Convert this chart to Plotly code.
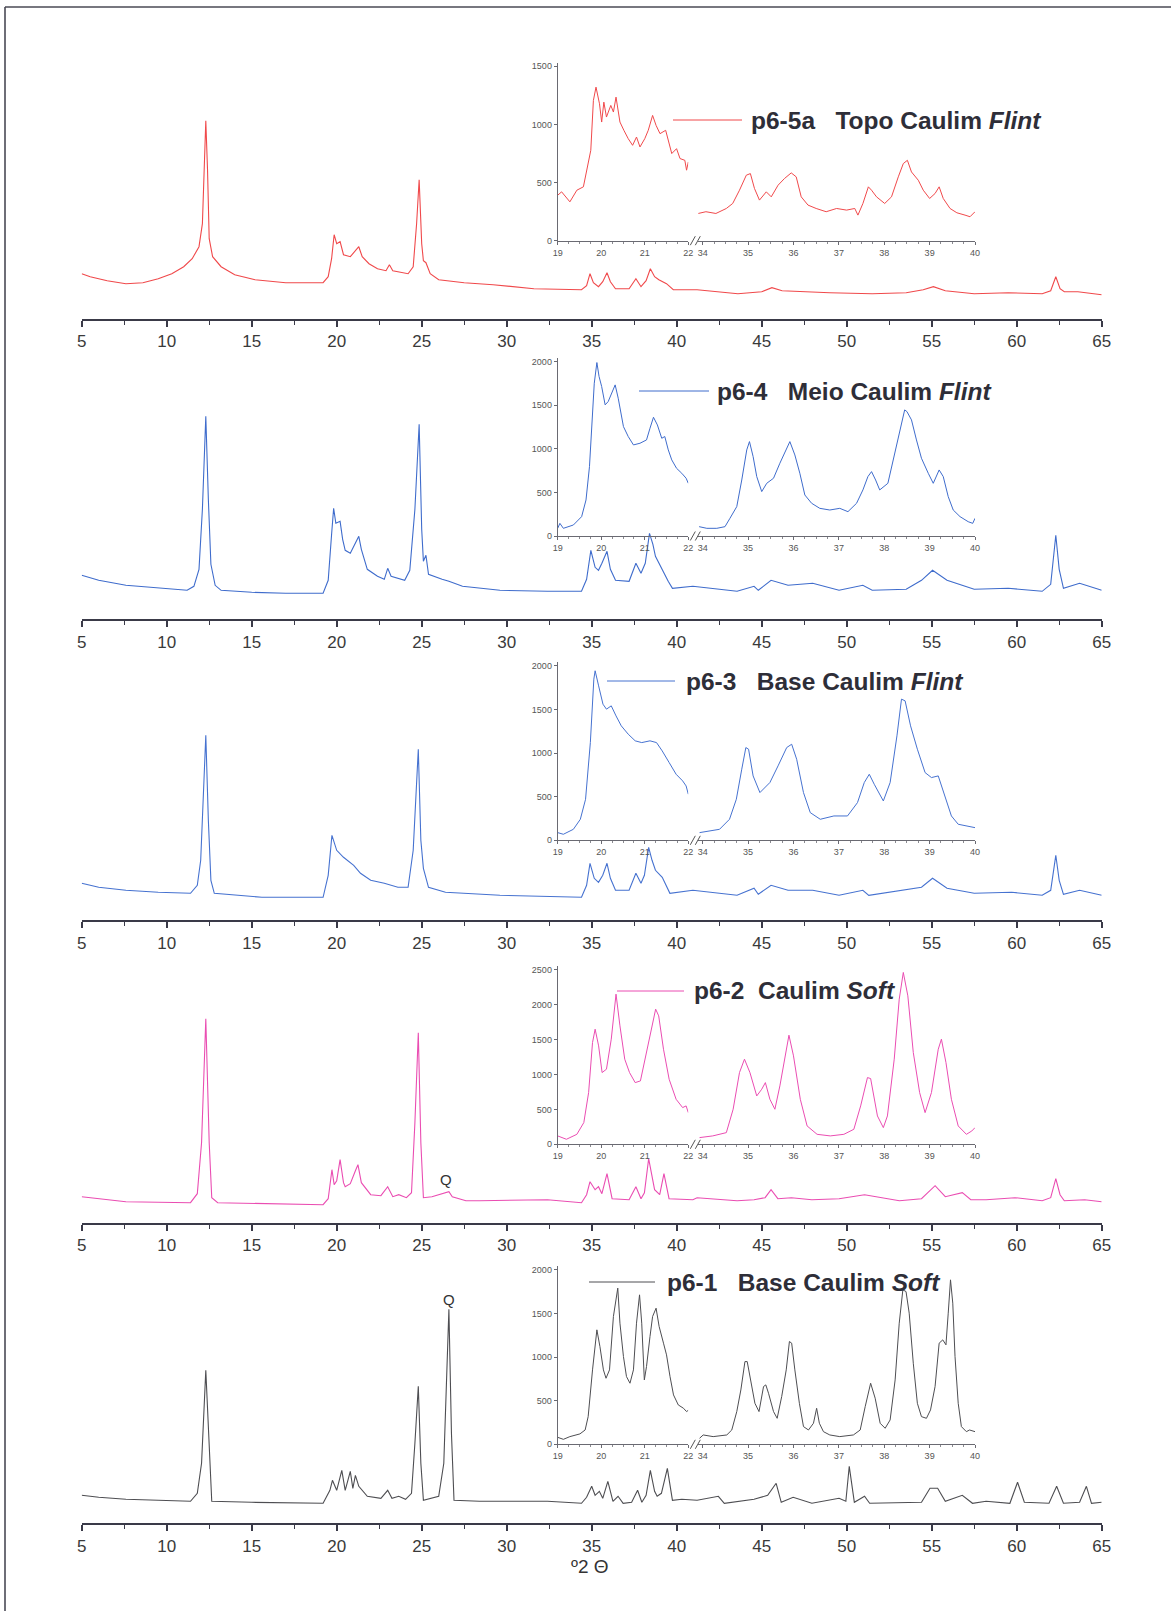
import plotly.graph_objects as go

W, H = 1171, 1611

# ---------------------------------------------------------------------------
# Full scans, 5-65 degrees 2-theta (relative intensity, a.u.)
# ---------------------------------------------------------------------------
p65a_tt = [5.0, 5.5, 6.5, 7.6, 8.6, 9.5, 10.3, 11.0, 11.5, 11.9, 12.1, 12.2, 12.3, 12.4, 12.5, 12.7,
           13.2, 14.0, 15.2, 17.0, 19.2, 19.5, 19.7, 19.85, 20.0, 20.2, 20.4, 20.8, 21.1, 21.3, 21.5,
           21.9, 22.4, 22.9, 23.1, 23.3, 24.2, 24.5, 24.7, 24.85, 25.0, 25.1, 25.25, 25.5, 26.0, 27.5,
           29.2, 31.6, 34.4, 34.7, 34.9, 35.1, 35.4, 35.65, 35.9, 36.1, 36.4, 37.2, 37.6, 37.9, 38.2,
           38.45, 38.7, 38.95, 39.4, 39.8, 41.2, 43.6, 45.0, 45.6, 46.2, 47.5, 49.0, 51.5, 53.5, 54.5,
           55.1, 55.8, 57.5, 59.5, 61.5, 62.0, 62.3, 62.55, 62.8, 63.6, 64.0, 65.0]
p65a_i = [45, 42, 38, 35, 36, 40, 45, 52, 60, 72, 95, 150, 198, 150, 80, 62,
          52, 44, 39, 36, 36, 42, 60, 84, 75, 77, 64, 62, 68, 72, 62,
          55, 50, 48, 54, 48, 45, 52, 95, 139, 75, 58, 56, 45, 39, 36,
          34, 30, 29, 33, 45, 36, 32, 37, 46, 37, 30, 30, 40, 32, 38,
          50, 42, 39, 35, 29, 29, 25, 27, 31, 28, 27, 26, 25, 26, 29,
          32, 28, 25, 26, 25, 28, 42, 30, 27, 27, 26, 24]

p64_tt = [5.0, 6.0, 7.6, 9.5, 11.2, 11.6, 11.9, 12.1, 12.3, 12.45, 12.6, 12.85, 13.2, 15.0, 17.0,
          19.2, 19.5, 19.7, 19.82, 19.95, 20.2, 20.35, 20.5, 20.8, 21.1, 21.3, 21.45, 21.8, 22.4,
          22.8, 23.0, 23.2, 24.0, 24.3, 24.6, 24.85, 25.0, 25.1, 25.25, 25.4, 26.2, 26.6, 27.4, 29.6,
          32.4, 34.4, 34.7, 34.95, 35.2, 35.4, 35.6, 35.9, 36.1, 36.4, 37.2, 37.6, 37.9, 38.15, 38.4,
          38.6, 38.75, 39.15, 39.5, 39.75, 40.95, 43.55, 44.55, 44.8, 45.55, 46.55, 48.0, 49.55,
          50.95, 51.5, 53.5, 54.4, 55.05, 55.9, 57.5, 59.5, 61.5, 62.0, 62.3, 62.5, 62.75, 63.7, 65.0]
p64_i = [44, 39, 34, 31, 29, 33, 50, 110, 203, 120, 55, 34, 29, 27, 26,
         26, 39, 85, 111, 96, 98, 80, 69, 66, 76, 83, 70, 50, 43,
         40, 51, 43, 39, 49, 110, 195, 90, 58, 64, 45, 40, 38, 33, 29,
         28, 28, 40, 69, 52, 49, 56, 68, 50, 39, 38, 56, 46, 56, 86,
         75, 63, 49, 38, 31, 33, 28, 33, 29, 39, 34, 36, 29,
         34, 29, 30, 39, 49, 39, 30, 31, 28, 35, 84, 50, 31, 36, 29]

p63_tt = [5.0, 6.0, 7.6, 9.5, 11.4, 11.8, 12.0, 12.15, 12.3, 12.45, 12.6, 12.8, 15.6, 19.2, 19.5,
          19.72, 20.0, 20.4, 21.0, 21.4, 22.0, 22.8, 23.6, 24.2, 24.5, 24.8, 24.95, 25.1, 25.4, 26.4,
          29.6, 34.4, 34.7, 34.9, 35.15, 35.4, 35.65, 35.9, 36.1, 36.4, 37.2, 37.6, 37.9, 38.1, 38.35,
          38.55, 38.75, 39.15, 39.6, 40.95, 43.55, 44.55, 44.8, 45.55, 46.55, 48.0, 49.55, 50.95,
          51.3, 54.4, 55.05, 55.9, 57.5, 59.7, 61.5, 62.0, 62.3, 62.5, 62.75, 63.7, 65.0]
p63_i = [37, 33, 30, 28, 27, 35, 60, 120, 185, 100, 40, 27, 23, 23, 45,
         85, 70, 63, 55, 47, 40, 37, 33, 33, 70, 171, 80, 52, 33, 28,
         25, 23, 35, 57, 42, 38, 45, 57, 42, 30, 30, 47, 37, 45, 73,
         60, 50, 43, 27, 30, 25, 32, 26, 35, 30, 30, 25, 30,
         25, 33, 42, 32, 27, 28, 25, 30, 65, 40, 26, 30, 25]

p62_tt = [5.0, 6.0, 7.6, 11.4, 11.8, 12.05, 12.3, 12.5, 12.65, 13.0, 16.0, 19.2, 19.5, 19.72, 19.85,
          20.0, 20.2, 20.4, 20.5, 20.8, 21.1, 21.25, 21.45, 22.0, 22.6, 23.0, 23.3, 23.65, 24.1, 24.4,
          24.6, 24.8, 24.95, 25.1, 25.6, 26.2, 26.6, 26.8, 27.6, 28.4, 32.4, 34.4, 34.7, 34.9, 35.2,
          35.4, 35.6, 35.9, 36.2, 37.2, 37.6, 37.9, 38.1, 38.35, 38.6, 38.7, 39.0, 39.25, 39.55,
          40.95, 41.2, 43.55, 44.55, 45.2, 45.55, 45.95, 46.75, 47.95, 49.55, 51.05, 53.1, 54.4,
          55.2, 55.8, 56.8, 57.3, 58.2, 59.9, 61.5, 62.0, 62.3, 62.55, 62.8, 64.0, 65.0]
p62_i = [26, 24, 21, 20, 29, 80, 204, 80, 25, 20, 19, 18, 24, 53, 38,
         42, 63, 40, 36, 39, 52, 58, 40, 28, 27, 36, 26, 28, 25, 30,
         100, 190, 80, 25, 26, 29, 31, 26, 22, 22, 23, 20, 28, 41, 33,
         36, 29, 49, 24, 23, 36, 24, 30, 64, 40, 33, 28, 49, 24,
         23, 25, 22, 23, 25, 33, 24, 25, 23, 24, 28, 22, 24,
         37, 26, 30, 23, 23, 25, 22, 25, 44, 28, 22, 23, 21]

p61_tt = [5.0, 6.0, 7.6, 11.4, 11.8, 12.05, 12.3, 12.5, 12.65, 15.0, 19.2, 19.6, 19.75, 20.0, 20.3,
          20.5, 20.8, 20.95, 21.1, 21.3, 21.8, 22.6, 23.0, 23.25, 23.65, 24.05, 24.4, 24.6, 24.8,
          24.95, 25.1, 26.0, 26.3, 26.6, 26.75, 26.9, 28.4, 32.4, 34.4, 34.7, 35.0, 35.2, 35.45,
          35.65, 35.95, 36.25, 36.55, 36.85, 37.35, 37.7, 37.95, 38.2, 38.45, 38.7, 38.85, 39.1,
          39.45, 39.75, 40.3, 41.2, 42.45, 42.8, 44.55, 45.35, 45.85, 46.15, 46.85, 47.95, 49.55,
          49.95, 50.15, 50.45, 51.05, 51.35, 54.4, 54.9, 55.35, 55.8, 56.8, 57.4, 58.2, 59.6, 60.05,
          60.45, 61.9, 62.35, 62.75, 63.7, 64.1, 64.4, 65.0]
p61_i = [28, 26, 24, 22, 30, 60, 153, 70, 22, 21, 20, 33, 43, 33, 53,
         33, 52, 35, 48, 37, 27, 25, 33, 25, 27, 24, 30, 80, 137,
         60, 23, 27, 60, 214, 90, 23, 22, 22, 20, 26, 37, 28, 32,
         25, 42, 22, 27, 20, 21, 33, 21, 28, 53, 32, 27, 30,
         55, 23, 24, 23, 27, 20, 24, 28, 40, 21, 26, 20, 25,
         22, 57, 21, 27, 20, 21, 35, 35, 22, 28, 20, 22, 20, 41,
         21, 20, 37, 20, 21, 37, 20, 21]

# ---------------------------------------------------------------------------
# Detail scans (counts): 19-22 and 34-40 degrees 2-theta
# ---------------------------------------------------------------------------
p65a_lo_tt = [19.0, 19.09, 19.28, 19.44, 19.59, 19.7, 19.76, 19.82, 19.88, 19.96, 20.01, 20.06, 20.12,
              20.22, 20.28, 20.34, 20.43, 20.52, 20.62, 20.72, 20.81, 20.89, 21.0, 21.08, 21.18, 21.26,
              21.35, 21.48, 21.54, 21.62, 21.73, 21.81, 21.92, 21.96, 22.0]
p65a_lo_c = [391, 420, 334, 434, 463, 649, 777, 1206, 1320, 1177, 1020, 1191, 1063,
             1163, 1106, 1234, 1020, 949, 877, 820, 891, 806, 877, 949, 1077, 991,
             920, 949, 863, 749, 791, 706, 691, 606, 677]
p65a_hi_tt = [33.9, 34.07, 34.29, 34.52, 34.66, 34.81, 34.96, 35.05, 35.14, 35.25, 35.4, 35.51, 35.66,
              35.8, 35.95, 36.06, 36.17, 36.32, 36.5, 36.72, 36.95, 37.17, 37.35, 37.42, 37.53, 37.65,
              37.72, 37.83, 38.01, 38.16, 38.31, 38.42, 38.51, 38.6, 38.75, 38.86, 39.0, 39.12, 39.21,
              39.3, 39.45, 39.6, 39.78, 39.89, 40.0]
p65a_hi_c = [234, 249, 234, 277, 320, 434, 563, 577, 449, 349, 420, 377, 477,
             534, 583, 549, 377, 306, 277, 249, 277, 263, 277, 220, 320, 463,
             434, 377, 320, 377, 549, 663, 691, 591, 520, 434, 363, 406, 463,
             363, 277, 240, 220, 206, 249]

p64_lo_tt = [19.0, 19.05, 19.13, 19.36, 19.55, 19.65, 19.73, 19.78, 19.84, 19.9, 19.95, 20.01, 20.09,
             20.16, 20.26, 20.32, 20.39, 20.51, 20.62, 20.74, 20.89, 21.04, 21.12, 21.2, 21.29, 21.39,
             21.46, 21.54, 21.62, 21.73, 21.85, 21.95, 22.0]
p64_lo_c = [88, 145, 88, 126, 222, 413, 795, 1292, 1751, 1988, 1828, 1713, 1503,
            1541, 1675, 1732, 1579, 1254, 1140, 1044, 1063, 1101, 1235, 1361, 1273, 1120,
            1140, 987, 872, 776, 719, 662, 604]
p64_hi_tt = [33.92, 34.09, 34.31, 34.49, 34.6, 34.75, 34.86, 34.97, 35.03, 35.11, 35.19, 35.3, 35.41,
             35.56, 35.7, 35.84, 35.92, 36.03, 36.14, 36.25, 36.4, 36.58, 36.8, 37.02, 37.2, 37.39,
             37.53, 37.64, 37.72, 37.81, 37.9, 38.08, 38.23, 38.34, 38.45, 38.5, 38.6, 38.71, 38.82,
             38.97, 39.08, 39.21, 39.3, 39.41, 39.52, 39.67, 39.85, 39.95, 40.0]
p64_hi_c = [107, 88, 88, 107, 203, 337, 642, 987, 1082, 910, 681, 509, 604,
            662, 834, 987, 1082, 929, 719, 470, 375, 317, 298, 317, 279, 375,
            528, 681, 738, 642, 528, 604, 948, 1178, 1445, 1426, 1331, 1101, 891,
            719, 604, 757, 681, 451, 298, 222, 164, 145, 203]

p63_lo_tt = [19.0, 19.13, 19.36, 19.52, 19.64, 19.75, 19.83, 19.86, 19.94, 20.04, 20.12, 20.23, 20.34,
             20.46, 20.62, 20.78, 20.93, 21.12, 21.27, 21.4, 21.56, 21.72, 21.87, 21.95, 22.0]
p63_lo_c = [88, 69, 126, 241, 470, 1120, 1847, 1943, 1770, 1560, 1503, 1541, 1426,
            1312, 1216, 1140, 1120, 1140, 1120, 1025, 891, 757, 681, 623, 528]
p63_hi_tt = [33.93, 34.15, 34.37, 34.59, 34.74, 34.86, 34.95, 35.01, 35.11, 35.26, 35.36, 35.48, 35.66,
             35.85, 35.96, 36.07, 36.22, 36.37, 36.59, 36.89, 37.19, 37.41, 37.56, 37.67, 37.78, 37.98,
             38.13, 38.28, 38.38, 38.46, 38.58, 38.73, 38.9, 39.04, 39.19, 39.33, 39.48, 39.63, 39.85,
             40.0]
p63_hi_c = [88, 107, 126, 241, 470, 815, 1063, 1044, 738, 547, 604, 662, 853,
            1063, 1101, 929, 547, 317, 241, 279, 279, 432, 662, 757, 642, 451,
            662, 1197, 1618, 1598, 1312, 1044, 776, 719, 738, 509, 279, 184, 164,
            145]

p62_lo_tt = [19.0, 19.2, 19.44, 19.6, 19.71, 19.8, 19.86, 19.94, 20.02, 20.12, 20.23, 20.34, 20.43,
             20.54, 20.65, 20.78, 20.9, 21.01, 21.12, 21.25, 21.32, 21.43, 21.56, 21.72, 21.87, 21.95,
             22.0]
p62_lo_c = [120, 72, 143, 311, 741, 1458, 1649, 1410, 1028, 1076, 1506, 2151, 1697,
            1219, 1028, 884, 908, 1219, 1553, 1936, 1840, 1362, 932, 645, 526, 550,
            454]
p62_hi_tt = [33.93, 34.22, 34.52, 34.67, 34.81, 34.92, 35.04, 35.19, 35.3, 35.38, 35.48, 35.59, 35.7,
             35.81, 35.9, 36.0, 36.15, 36.3, 36.52, 36.81, 37.11, 37.33, 37.48, 37.63, 37.7, 37.85,
             37.98, 38.07, 38.22, 38.33, 38.42, 38.52, 38.64, 38.78, 38.9, 39.04, 39.19, 39.26, 39.36,
             39.48, 39.63, 39.81, 39.93, 40.0]
p62_hi_c = [96, 120, 167, 502, 1028, 1219, 1028, 693, 789, 884, 645, 502, 837,
            1267, 1563, 1267, 645, 263, 143, 120, 143, 215, 550, 956, 942, 406,
            239, 406, 1219, 2079, 2462, 2127, 1315, 741, 454, 741, 1362, 1506, 1171,
            645, 263, 143, 191, 239]

p61_lo_tt = [19.0, 19.13, 19.28, 19.51, 19.63, 19.7, 19.8, 19.9, 19.97, 20.05, 20.11, 20.19, 20.28,
             20.34, 20.38, 20.43, 20.51, 20.58, 20.66, 20.74, 20.81, 20.88, 20.93, 20.99, 21.04, 21.12,
             21.18, 21.26, 21.33, 21.43, 21.5, 21.58, 21.66, 21.77, 21.89, 21.96, 22.0]
p61_lo_c = [80, 57, 88, 119, 164, 317, 853, 1312, 1120, 853, 757, 853, 1465,
            1637, 1790, 1388, 1006, 776, 700, 853, 1388, 1713, 1388, 738, 891, 1235,
            1465, 1560, 1350, 1159, 1025, 776, 566, 451, 413, 375, 390]
p61_hi_tt = [33.93, 34.01, 34.23, 34.53, 34.64, 34.75, 34.84, 34.93, 34.98, 35.08, 35.15, 35.24, 35.34,
             35.39, 35.45, 35.56, 35.64, 35.74, 35.84, 35.91, 35.96, 36.03, 36.13, 36.22, 36.33, 36.44,
             36.51, 36.57, 36.66, 36.8, 37.02, 37.32, 37.47, 37.58, 37.7, 37.8, 37.91, 38.02, 38.13,
             38.24, 38.33, 38.41, 38.48, 38.55, 38.64, 38.73, 38.82, 38.93, 39.02, 39.12, 39.21, 39.29,
             39.36, 39.41, 39.46, 39.51, 39.56, 39.63, 39.7, 39.81, 39.88, 40.0]
p61_hi_c = [69, 107, 88, 107, 164, 375, 623, 948, 948, 642, 470, 375, 662,
            681, 585, 375, 298, 547, 853, 1178, 1159, 853, 470, 203, 164, 241,
            413, 241, 145, 107, 88, 107, 164, 432, 700, 528, 241, 184, 279,
            738, 1388, 1770, 1751, 1503, 929, 470, 317, 298, 394, 662, 1159, 1197,
            1140, 1503, 1885, 1618, 1006, 470, 203, 145, 164, 145]

sample_ids = ["p6-5a", "p6-4", "p6-3", "p6-2", "p6-1"]
sample_desc = ["Topo Caulim <i>Flint</i>", "Meio Caulim <i>Flint</i>", "Base Caulim <i>Flint</i>",
               "Caulim <i>Soft</i>", "Base Caulim <i>Soft</i>"]
inset_max = [1500, 2000, 2000, 2500, 2000]

main_tt = [p65a_tt, p64_tt, p63_tt, p62_tt, p61_tt]
main_i = [p65a_i, p64_i, p63_i, p62_i, p61_i]
lo_tt = [p65a_lo_tt, p64_lo_tt, p63_lo_tt, p62_lo_tt, p61_lo_tt]
lo_c = [p65a_lo_c, p64_lo_c, p63_lo_c, p62_lo_c, p61_lo_c]
hi_tt = [p65a_hi_tt, p64_hi_tt, p63_hi_tt, p62_hi_tt, p61_hi_tt]
hi_c = [p65a_hi_c, p64_hi_c, p63_hi_c, p62_hi_c, p61_hi_c]

# quartz reflection marked in the two Soft samples: (panel, 2-theta, label height)
quartz_marks = [(3, 26.4, 43), (4, 26.6, 224)]

# ---------------------------------------------------------------------------
# Styling / geometry (pixels)
# ---------------------------------------------------------------------------
colors = ["#f0494b", "#3f6ccc", "#4672d0", "#ea4db2", "#4e4e52"]
AX_COLOR = "#3a3a48"
FONT = "Liberation Sans, Arial, Helvetica, sans-serif"

main_left, main_right = 81.7, 1101.7
main_axis_y = [318.7, 619.3, 920.3, 1222.7, 1523.3]
main_height = 260.0

ins_lo = (557.7, 688.3)
ins_hi = (698.2, 975.0)
ins_base = [240.7, 536.0, 840.3, 1144.3, 1444.3]
ins_height = 174.5
ins_ext = 1.02

legend_line = [(673, 742, 120), (639, 709, 391), (607, 675, 681), (617, 684, 991), (589, 655, 1282)]
legend_text_x = [749, 715, 684, 692, 665]
legend_gap = [3, 3, 3, 2, 3]


def fx(x):
    return x / W


def fy(y):
    return 1 - y / H


def ax_name(kind, n):
    return f"{kind}axis" if n == 1 else f"{kind}axis{n}"


def ax_ref(kind, n):
    return kind if n == 1 else f"{kind}{n}"


fig = go.Figure()
layout = dict(
    width=W, height=H,
    margin=dict(l=0, r=0, t=0, b=0, pad=0),
    paper_bgcolor="white", plot_bgcolor="rgba(0,0,0,0)",
    showlegend=False,
    font=dict(family=FONT, color="#333"),
)
shapes, annotations = [], []

for k in range(5):
    xm, xl, xh = 3 * k + 1, 3 * k + 2, 3 * k + 3
    ym, yi = 2 * k + 1, 2 * k + 2
    col = colors[k]

    # full scan
    fig.add_trace(go.Scatter(x=main_tt[k], y=main_i[k], mode="lines",
                             line=dict(color=col, width=1.1),
                             xaxis=ax_ref("x", xm), yaxis=ax_ref("y", ym)))
    # detail scan, two segments on a broken axis
    fig.add_trace(go.Scatter(x=lo_tt[k], y=lo_c[k], mode="lines",
                             line=dict(color=col, width=1),
                             xaxis=ax_ref("x", xl), yaxis=ax_ref("y", yi)))
    fig.add_trace(go.Scatter(x=hi_tt[k], y=hi_c[k], mode="lines",
                             line=dict(color=col, width=1),
                             xaxis=ax_ref("x", xh), yaxis=ax_ref("y", yi)))

    base = main_axis_y[k]
    layout[ax_name("x", xm)] = dict(
        domain=[fx(main_left), fx(main_right)], range=[5, 65], anchor=ax_ref("y", ym),
        automargin=False,
        showline=True, linecolor=AX_COLOR, linewidth=2,
        ticks="outside", ticklen=6, tickwidth=1.6, tickcolor=AX_COLOR,
        tick0=5, dtick=5,
        minor=dict(dtick=2.5, ticklen=4, ticks="outside", tickcolor=AX_COLOR, tickwidth=1.4),
        tickfont=dict(size=17, color="#3a3a3a", family=FONT),
        showgrid=False, zeroline=False, fixedrange=True,
    )
    layout[ax_name("y", ym)] = dict(
        domain=[fy(base), fy(base - main_height)], range=[0, main_height],
        anchor=ax_ref("x", xm), visible=False, showgrid=False, zeroline=False, automargin=False,
    )

    ib = ins_base[k]
    ymax = inset_max[k]
    small = dict(size=9, color="#555", family=FONT)
    common_x = dict(
        anchor=ax_ref("y", yi), showline=True, linecolor="#6a6a72", linewidth=1,
        ticks="outside", ticklen=3, tickwidth=1, tickcolor="#6a6a72", dtick=1,
        minor=dict(dtick=0.25, ticklen=2, ticks="outside", tickcolor="#8a8a90"),
        tickfont=small, showgrid=False, zeroline=False, automargin=False,
    )
    layout[ax_name("x", xl)] = dict(domain=[fx(ins_lo[0]), fx(ins_lo[1])], range=[19, 22],
                                    tick0=19, **common_x)
    layout[ax_name("x", xh)] = dict(domain=[fx(ins_hi[0]), fx(ins_hi[1])], range=[33.9, 40],
                                    tick0=34, **common_x)
    layout[ax_name("y", yi)] = dict(
        domain=[fy(ib), fy(ib - ins_height * ins_ext)], range=[0, ymax * ins_ext],
        anchor=ax_ref("x", xl), showline=True, linecolor="#6a6a72", linewidth=1,
        ticks="outside", ticklen=3, tickwidth=1, tickcolor="#6a6a72",
        tick0=0, dtick=500, tickfont=small, showgrid=False, zeroline=False, automargin=False,
    )

    # axis-break marks
    for dx in (0.0, 5.0):
        shapes.append(dict(type="line", xref="paper", yref="paper",
                           x0=fx(ins_lo[1] + 2 + dx), y0=fy(ib + 4.5),
                           x1=fx(ins_lo[1] + 7 + dx), y1=fy(ib - 4.5),
                           line=dict(color="#555", width=1)))

    # sample key
    lx0, lx1, ly = legend_line[k]
    shapes.append(dict(type="line", xref="paper", yref="paper",
                       x0=fx(lx0), y0=fy(ly), x1=fx(lx1), y1=fy(ly),
                       line=dict(color=col, width=1)))
    gap = "\u00a0" * legend_gap[k]
    annotations.append(dict(
        xref="paper", yref="paper", x=fx(legend_text_x[k]), y=fy(ly),
        xanchor="left", yanchor="middle", showarrow=False,
        text=f"<b>{sample_ids[k]}{gap}{sample_desc[k]}</b>",
        font=dict(size=24.5, color="#2e2e38", family=FONT),
    ))

for k, tt, h in quartz_marks:
    annotations.append(dict(
        xref=ax_ref("x", 3 * k + 1), yref=ax_ref("y", 2 * k + 1), x=tt, y=h,
        text="Q", showarrow=False, xanchor="center", yanchor="middle",
        font=dict(size=15, color="#333", family=FONT),
    ))

annotations.append(dict(
    xref="paper", yref="paper", x=fx(590), y=fy(1566), xanchor="center", yanchor="middle",
    text="\u00ba2 \u0398", showarrow=False, font=dict(size=19, color="#333", family=FONT),
))

# page frame (left and top edges)
shapes.append(dict(type="line", xref="paper", yref="paper", x0=fx(5), y0=fy(7), x1=fx(5), y1=0,
                   line=dict(color="#4a4a55", width=1.6)))
shapes.append(dict(type="line", xref="paper", yref="paper", x0=fx(5), y0=fy(7), x1=1, y1=fy(7),
                   line=dict(color="#4a4a55", width=1.6)))

layout["shapes"] = shapes
layout["annotations"] = annotations
fig.update_layout(**layout)
fig.write_html("out.html")
